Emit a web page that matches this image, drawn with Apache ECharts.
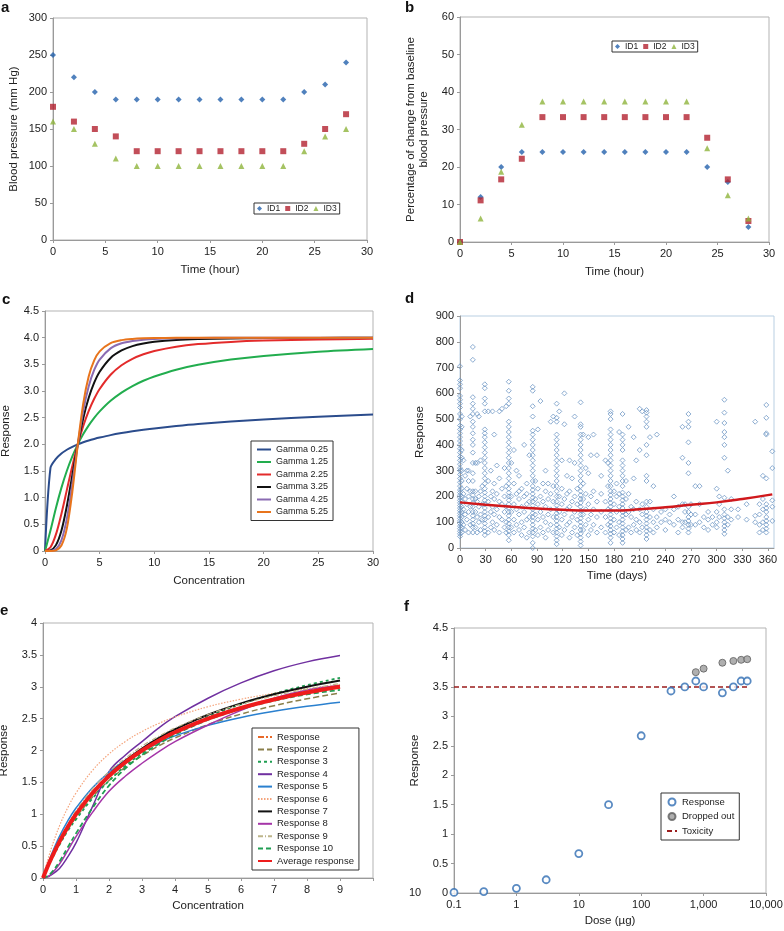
<!DOCTYPE html>
<html>
<head>
<meta charset="utf-8">
<script src="https://cdn.jsdelivr.net/npm/echarts@6/dist/echarts.min.js"></script>
<style>
  html, body { margin: 0; padding: 0; background: #fff; }
  #chart { width: 784px; height: 931px; }
</style>
</head>
<body>
<div id="chart"></div>
<script>
'use strict';
// ---- panel a / b : blood pressure by subject ----
const aTime = [0, 2, 4, 6, 8, 10, 12, 14, 16, 18, 20, 22, 24, 26, 28];
const aID1 = [250, 220, 200, 190, 190, 190, 190, 190, 190, 190, 190, 190, 200, 210, 240];
const aID2 = [180, 160, 150, 140, 120, 120, 120, 120, 120, 120, 120, 120, 130, 150, 170];
const aID3 = [160, 150, 130, 110, 100, 100, 100, 100, 100, 100, 100, 100, 120, 140, 150];
const bID1 = [0, 12, 20, 24, 24, 24, 24, 24, 24, 24, 24, 24, 20, 16, 4];
const bID2 = [0, 11.1, 16.7, 22.2, 33.3, 33.3, 33.3, 33.3, 33.3, 33.3, 33.3, 33.3, 27.8, 16.7, 5.6];
const bID3 = [0, 6.25, 18.75, 31.25, 37.5, 37.5, 37.5, 37.5, 37.5, 37.5, 37.5, 37.5, 25, 12.5, 6.25];

// ---- panel c : gamma curves ----
const cConc = [0, 0.5, 1, 1.5, 2, 2.5, 3, 3.5, 4, 4.5, 5, 6, 7, 8, 9, 10, 12, 14, 17, 20, 25, 30];
const cNames = ['Gamma 0.25', 'Gamma 1.25', 'Gamma 2.25', 'Gamma 3.25', 'Gamma 4.25', 'Gamma 5.25'];
const cG025 = [0, 1.559, 1.727, 1.827, 1.898, 1.954, 2.0, 2.038, 2.072, 2.101, 2.127, 2.173, 2.211, 2.244, 2.273, 2.299, 2.343, 2.381, 2.427, 2.466, 2.518, 2.56];
const cG125 = [0, 0.385, 0.808, 1.184, 1.504, 1.773, 2.0, 2.192, 2.356, 2.496, 2.618, 2.816, 2.97, 3.093, 3.192, 3.273, 3.399, 3.491, 3.589, 3.658, 3.736, 3.787];
const cG225 = [0, 0.07, 0.311, 0.695, 1.146, 1.595, 2.0, 2.343, 2.626, 2.854, 3.038, 3.305, 3.482, 3.603, 3.688, 3.75, 3.831, 3.879, 3.921, 3.945, 3.966, 3.978];
const cG325 = [0, 0.012, 0.11, 0.38, 0.845, 1.424, 2.0, 2.491, 2.872, 3.155, 3.361, 3.62, 3.76, 3.841, 3.89, 3.922, 3.956, 3.973, 3.986, 3.992, 3.996, 3.998];
const cG425 = [0, 0.002, 0.037, 0.2, 0.606, 1.262, 2.0, 2.633, 3.09, 3.394, 3.59, 3.8, 3.894, 3.939, 3.963, 3.976, 3.989, 3.995, 3.998, 3.999, 4.0, 4.0];
const cG525 = [0, 0.0003, 0.0125, 0.1025, 0.425, 1.11, 2.0, 2.768, 3.276, 3.575, 3.744, 3.898, 3.954, 3.977, 3.988, 3.993, 3.998, 3.999, 4.0, 4.0, 4.0, 4.0];
const cColors = ['#2b4c8c', '#22ad4e', '#e32b2b', '#111111', '#8a6bb2', '#e8741c'];

// ---- panel d : response over time (day, responses on that day) ----
const dColumns = [
  [0, [45, 55, 65, 75, 85, 95, 105, 115, 125, 135, 145, 155, 165, 175, 185, 195, 205, 215, 225, 240, 255, 270, 285, 300, 310, 325, 340, 355, 370, 385, 400, 415, 430, 445, 460, 475, 500, 520, 545, 560, 575, 590, 620, 635, 650, 705]],
  [2, [60, 80, 100, 120, 140, 160, 180, 200, 230, 260, 300, 350, 380, 470, 510]],
  [4, [90, 150, 210, 340]], [6, [70, 130, 190, 280]], [8, [110, 170, 230, 300]],
  [10, [60, 140, 200, 260, 300]], [12, [90, 160, 220, 510]],
  [15, [60, 80, 95, 110, 125, 140, 160, 175, 190, 205, 220, 260, 290, 330, 370, 400, 420, 445, 470, 490, 520, 540, 560, 585, 730, 780]],
  [18, [80, 140, 190, 220, 330]], [20, [60, 120, 180, 330, 520]], [22, [100, 160, 200, 510]],
  [24, [70, 130, 220, 340]], [26, [110, 170, 240]],
  [29, [50, 65, 80, 95, 110, 125, 140, 155, 170, 185, 200, 215, 230, 250, 270, 290, 310, 330, 350, 370, 390, 410, 430, 445, 460, 530, 560, 580, 620, 635]],
  [33, [60, 120, 180, 260, 530]], [36, [80, 140, 200, 300]], [38, [100, 160, 220, 530]],
  [40, [70, 130, 190, 250, 440]], [43, [90, 150, 210, 320]], [46, [60, 120, 180, 270, 530]],
  [49, [110, 170, 230, 540]], [52, [80, 140, 200, 310]], [54, [60, 100, 160, 240, 550]],
  [57, [30, 50, 65, 80, 95, 110, 125, 140, 155, 170, 185, 200, 215, 230, 250, 270, 290, 310, 330, 350, 370, 390, 410, 430, 450, 470, 490, 560, 580, 610, 645]],
  [60, [80, 140, 200, 330]], [63, [60, 110, 170, 250, 380]], [66, [90, 150, 210, 300]],
  [69, [70, 130, 190, 220, 280]], [72, [50, 100, 160, 230]], [75, [80, 140, 200, 400]],
  [78, [40, 110, 170, 210, 250]], [81, [60, 120, 180, 360]],
  [85, [0, 20, 45, 60, 75, 90, 105, 120, 135, 150, 165, 180, 195, 210, 225, 240, 260, 280, 300, 320, 340, 360, 380, 400, 420, 440, 455, 510, 550, 610, 625]],
  [88, [70, 130, 190, 260]], [91, [50, 110, 170, 230, 460]], [94, [80, 140, 200, 570]],
  [97, [60, 120, 180, 250]], [100, [40, 100, 160, 220, 300]], [103, [70, 130, 190, 250]],
  [106, [90, 150, 210, 490]], [109, [60, 120, 180, 240, 510]],
  [113, [15, 30, 45, 60, 75, 90, 105, 120, 135, 150, 165, 180, 200, 220, 240, 260, 280, 300, 320, 340, 360, 380, 400, 420, 440, 490, 505, 560]],
  [116, [80, 140, 200, 530]], [119, [50, 110, 170, 230, 340]], [122, [70, 130, 190, 480, 600]],
  [125, [90, 150, 210, 280]], [128, [40, 100, 160, 220, 340]], [131, [60, 120, 180, 270]],
  [134, [80, 140, 200, 330, 510]], [137, [50, 110, 170, 230]],
  [141, [10, 25, 40, 55, 70, 85, 100, 115, 130, 145, 160, 175, 190, 205, 220, 240, 260, 280, 300, 320, 340, 360, 380, 400, 420, 440, 470, 480, 565]],
  [144, [70, 130, 190, 250, 440]], [147, [90, 150, 210, 310]], [150, [50, 110, 170, 290, 430]],
  [153, [70, 130, 200, 360]], [156, [90, 150, 220, 440]], [160, [60, 120, 180, 360]],
  [165, [80, 140, 210, 280]], [170, [60, 120, 180, 340]], [173, [90, 150, 240, 330]],
  [176, [20, 40, 55, 70, 85, 100, 115, 130, 145, 160, 175, 190, 205, 220, 240, 260, 280, 300, 320, 340, 360, 380, 400, 420, 440, 460, 500, 520, 530]],
  [180, [60, 110, 170, 220]], [183, [80, 140, 200, 250]], [186, [50, 100, 160, 210, 450]],
  [190, [20, 35, 50, 65, 80, 95, 110, 125, 140, 155, 170, 185, 200, 215, 240, 260, 280, 300, 320, 340, 380, 400, 420, 440, 520]],
  [194, [70, 130, 190, 260]], [197, [80, 140, 210, 470]], [200, [60, 120, 160]],
  [203, [90, 150, 270, 430]], [206, [70, 110, 180, 340]], [210, [60, 100, 150, 380, 540]],
  [213, [80, 130, 170, 530]],
  [218, [35, 50, 65, 80, 95, 110, 125, 140, 160, 180, 260, 280, 360, 400, 470, 490, 510, 525, 535]],
  [222, [70, 120, 180, 430]], [226, [60, 100, 150, 240]], [230, [80, 120, 440]],
  [235, [100, 140]], [240, [70, 110, 150]], [245, [100, 130]], [250, [90, 150, 200]],
  [255, [60, 110, 160]], [260, [80, 100, 170, 350, 470]], [263, [100, 140, 170]],
  [267, [60, 75, 90, 105, 120, 140, 160, 290, 330, 410, 470, 490, 520]],
  [270, [90, 130, 170]], [275, [90, 130, 240]], [280, [100, 170, 240]], [285, [80, 120]],
  [290, [70, 110, 140]], [295, [90, 120]], [300, [80, 100, 140, 230, 490]], [303, [120, 170, 200]],
  [309, [55, 70, 85, 100, 115, 130, 150, 195, 350, 400, 430, 450, 485, 525, 575]],
  [313, [90, 120, 300]], [317, [110, 150, 190]], [325, [120, 150]], [335, [110, 170]],
  [345, [100, 125, 490]], [350, [60, 90, 130, 170]], [354, [70, 100, 150, 190, 280]],
  [358, [60, 75, 90, 105, 120, 140, 155, 170, 270, 440, 445, 505, 555]],
  [365, [105, 160, 185, 310, 375]]
];
const dTrendDays = [0, 30, 60, 90, 120, 150, 180, 210, 240, 270, 300, 330, 365];
const dTrendVals = [177, 168, 160, 153, 148, 145, 145, 150, 158, 168, 177, 190, 208];

// ---- panel e : individual responses vs concentration ----
const eConc = [0, 0.1, 0.25, 0.5, 0.75, 1, 1.5, 2, 2.5, 3, 3.5, 4, 5, 6, 7, 8, 9];
const eNames = ['Response', 'Response 2', 'Response 3', 'Response 4', 'Response 5', 'Response 6',
  'Response 7', 'Response 8', 'Response 9', 'Response 10', 'Average response'];
const eValues = [
  [0, 0.125, 0.3, 0.56, 0.78, 0.976, 1.3, 1.577, 1.8, 1.984, 2.14, 2.278, 2.5, 2.674, 2.814, 2.929, 3.025],
  [0, 0.12, 0.29, 0.55, 0.76, 0.951, 1.27, 1.529, 1.74, 1.918, 2.07, 2.197, 2.407, 2.571, 2.703, 2.811, 2.9],
  [0, 0.12, 0.28, 0.52, 0.74, 0.92, 1.25, 1.525, 1.76, 1.957, 2.13, 2.278, 2.528, 2.727, 2.89, 3.025, 3.14],
  [0, 0.01, 0.05, 0.15, 0.33, 0.55, 1.12, 1.67, 1.93, 2.14, 2.35, 2.53, 2.82, 3.06, 3.25, 3.39, 3.49],
  [0, 0.155, 0.362, 0.654, 0.895, 1.097, 1.417, 1.659, 1.848, 2.0, 2.125, 2.23, 2.394, 2.519, 2.615, 2.693, 2.757],
  [0, 0.2, 0.461, 0.818, 1.102, 1.333, 1.688, 1.946, 2.143, 2.298, 2.423, 2.526, 2.687, 2.805, 2.897, 2.969, 3.028],
  [0, 0.127, 0.304, 0.568, 0.798, 1.0, 1.34, 1.615, 1.842, 2.032, 2.194, 2.333, 2.561, 2.739, 2.882, 3.0, 3.098],
  [0, 0.01, 0.06, 0.22, 0.43, 0.65, 1.03, 1.36, 1.6, 1.8, 1.98, 2.14, 2.4, 2.63, 2.82, 2.95, 3.02],
  [0, 0.14, 0.33, 0.61, 0.84, 1.053, 1.4, 1.667, 1.88, 2.069, 2.22, 2.353, 2.564, 2.727, 2.857, 2.963, 3.05],
  [0, 0.02, 0.08, 0.26, 0.48, 0.7, 1.1, 1.45, 1.72, 1.93, 2.1, 2.25, 2.48, 2.65, 2.78, 2.88, 2.95],
  [0, 0.129, 0.308, 0.571, 0.8, 1.0, 1.333, 1.6, 1.818, 2.0, 2.154, 2.286, 2.5, 2.667, 2.8, 2.909, 3.0]
];
const eStyles = [
  { color: '#e8692a', width: 1.5, type: [6, 2, 2, 2] },
  { color: '#8a7f4a', width: 1.5, type: [6, 3] },
  { color: '#1f9e52', width: 1.8, type: [3, 3] },
  { color: '#7030a0', width: 1.5, type: 'solid' },
  { color: '#2a80cf', width: 1.5, type: 'solid' },
  { color: '#f4a47c', width: 1.2, type: [1.5, 1.5] },
  { color: '#111111', width: 2, type: 'solid' },
  { color: '#a535a8', width: 1.5, type: 'solid' },
  { color: '#bdb58a', width: 1.2, type: [5, 2, 1, 2] },
  { color: '#1f9e52', width: 1.8, type: [5, 3] },
  { color: '#ee1c1c', width: 4, type: 'solid' }
];

// ---- panel f : dose response ----
const fDose = [0.1, 0.3, 1, 3, 10, 30, 100, 300, 500, 750, 1000, 2000, 3000, 4000, 5000];
const fResp = [0.01, 0.025, 0.08, 0.225, 0.67, 1.5, 2.67, 3.43, 3.5, 3.6, 3.5, 3.4, 3.5, 3.6, 3.6];
const fDropDose = [750, 1000, 2000, 3000, 4000, 5000];
const fDropResp = [3.75, 3.81, 3.91, 3.94, 3.96, 3.97];
const fToxDose = [0.1, 5000];
const fToxResp = [3.5, 3.5];

const FONT = '"Liberation Sans", Arial, sans-serif';
const zip = (xs, ys) => xs.map((x, i) => [x, ys[i]]);

const grids = [
  { left: 53, top: 18, width: 314, height: 222 },
  { left: 460, top: 17, width: 309, height: 225 },
  { left: 45, top: 311, width: 328, height: 240 },
  { left: 460, top: 316, width: 314, height: 232, borderColor: '#b9cfe2' },
  { left: 43, top: 623, width: 330, height: 255 },
  { left: 454, top: 628, width: 312, height: 265 }
].map(g => Object.assign({ show: true, borderColor: '#b3b3b3', borderWidth: 1, containLabel: false, outerBoundsMode: 'none' }, g));

function axis(gridIndex, min, max, interval, name, nameGap, extra) {
  return Object.assign({
    type: 'value', gridIndex, min, max, interval, name, nameGap,
    nameLocation: 'middle',
    nameTextStyle: { fontFamily: FONT, fontSize: 11.5, color: '#222' },
    axisLine: { show: true, onZero: false, lineStyle: { color: '#9a9a9a', width: 1 } },
    axisTick: { show: true, length: 3, lineStyle: { color: '#9a9a9a' } },
    axisLabel: { fontFamily: FONT, fontSize: 11, color: '#222', margin: 6 },
    splitLine: { show: false }
  }, extra || {});
}

const yRot = { nameRotate: 90 };
const xAxes = [
  axis(0, 0, 30, 5, 'Time (hour)', 24),
  axis(1, 0, 30, 5, 'Time (hour)', 24),
  axis(2, 0, 30, 5, 'Concentration', 24),
  axis(3, 0, 367, 30, 'Time (days)', 22, { axisLabel: { fontFamily: FONT, fontSize: 11, color: '#222', margin: 6, showMaxLabel: false } }),
  axis(4, 0, 10, 1, 'Concentration', 22, { axisLabel: { fontFamily: FONT, fontSize: 11, color: '#222', margin: 6, formatter: v => (v === 10 ? '' : String(v)) } }),
  {
    type: 'log', logBase: 10, gridIndex: 5, min: 0.1, max: 10000, name: 'Dose (µg)', nameGap: 22,
    nameLocation: 'middle',
    nameTextStyle: { fontFamily: FONT, fontSize: 11.5, color: '#222' },
    axisLine: { show: true, onZero: false, lineStyle: { color: '#9a9a9a' } },
    axisTick: { show: true, length: 3, lineStyle: { color: '#9a9a9a' } },
    axisLabel: {
      fontFamily: FONT, fontSize: 11, color: '#222', margin: 6,
      formatter: v => Number(v).toLocaleString('en-US', { maximumFractionDigits: 1 })
    },
    minorTick: { show: false },
    splitLine: { show: false }
  }
];
const yAxes = [
  axis(0, 0, 300, 50, 'Blood pressure (mm Hg)', 33, yRot),
  axis(1, 0, 60, 10, 'Percentage of change from baseline\nblood pressure', 30, { nameRotate: 90, nameTextStyle: { fontFamily: FONT, fontSize: 11.5, color: '#222', lineHeight: 13 } }),
  axis(2, 0, 4.5, 0.5, 'Response', 33, { nameRotate: 90, axisLabel: { fontFamily: FONT, fontSize: 11, color: '#222', margin: 6, formatter: v => (v === 0 ? '0' : v.toFixed(1)) } }),
  axis(3, 0, 900, 100, 'Response', 34, yRot),
  axis(4, 0, 4, 0.5, 'Response', 33, yRot),
  axis(5, 0, 4.5, 0.5, 'Response', 33, yRot)
];

const idStyle = [
  { name: 'ID1', symbol: 'diamond', size: 6, color: '#2462ad' },
  { name: 'ID2', symbol: 'rect', size: 6, color: '#b3222f' },
  { name: 'ID3', symbol: 'triangle', size: 6, color: '#8fb43c' }
];

const series = [];
[aID1, aID2, aID3].forEach((vals, i) => {
  series.push({
    name: idStyle[i].name, type: 'scatter', xAxisIndex: 0, yAxisIndex: 0,
    symbol: idStyle[i].symbol, symbolSize: idStyle[i].size,
    itemStyle: { color: idStyle[i].color }, data: zip(aTime, vals)
  });
});
[bID1, bID2, bID3].forEach((vals, i) => {
  series.push({
    name: idStyle[i].name, type: 'scatter', xAxisIndex: 1, yAxisIndex: 1,
    symbol: idStyle[i].symbol, symbolSize: idStyle[i].size,
    itemStyle: { color: idStyle[i].color }, data: zip(aTime, vals)
  });
});
[cG025, cG125, cG225, cG325, cG425, cG525].forEach((vals, i) => {
  series.push({
    name: cNames[i], type: 'line', xAxisIndex: 2, yAxisIndex: 2, smooth: 0.3,
    symbol: 'none', lineStyle: { color: cColors[i], width: 2 }, itemStyle: { color: cColors[i] },
    data: zip(cConc, vals)
  });
});

const dPoints = [];
dColumns.forEach(([day, ys]) => ys.forEach(y => dPoints.push([day, y])));
series.push({
  name: 'd-data', type: 'scatter', xAxisIndex: 3, yAxisIndex: 3, symbol: 'diamond', symbolSize: 5,
  itemStyle: { color: 'rgba(255,255,255,0)', borderColor: '#7198c6', borderWidth: 1 },
  data: dPoints
});
series.push({
  name: 'd-trend', type: 'line', xAxisIndex: 3, yAxisIndex: 3, smooth: true, symbol: 'none',
  lineStyle: { color: '#d0181c', width: 2.5 }, data: zip(dTrendDays, dTrendVals)
});

eValues.forEach((vals, i) => {
  series.push({
    name: eNames[i], type: 'line', xAxisIndex: 4, yAxisIndex: 4, smooth: 0.4, symbol: 'none',
    lineStyle: eStyles[i], itemStyle: { color: eStyles[i].color }, data: zip(eConc, vals)
  });
});

const fRespStyle = { color: '#ffffff', borderColor: '#2f6db3', borderWidth: 1.8 };
series.push({
  name: 'Response ', type: 'scatter', xAxisIndex: 5, yAxisIndex: 5, symbol: 'circle', symbolSize: 7,
  itemStyle: fRespStyle, data: zip(fDose, fResp), z: 3
});
series.push({
  name: 'Dropped out', type: 'scatter', xAxisIndex: 5, yAxisIndex: 5, symbol: 'circle', symbolSize: 7,
  itemStyle: { color: '#9b9b9b', borderColor: '#5e5e5e', borderWidth: 1 }, data: zip(fDropDose, fDropResp)
});
series.push({
  name: 'Toxicity', type: 'line', xAxisIndex: 5, yAxisIndex: 5, symbol: 'none',
  lineStyle: { color: '#9b1c1c', width: 1.5, type: [5, 3] }, itemStyle: { color: '#9b1c1c' },
  data: zip(fToxDose, fToxResp), z: 1
});

const legendBase = {
  borderColor: '#333', borderWidth: 1, borderRadius: 0, backgroundColor: '#fff',
  textStyle: { fontFamily: FONT, fontSize: 9, color: '#222' },
  selectedMode: false
};
const noSymbol = { opacity: 0 };
const lineItems = names => names.map(n => ({ name: n, itemStyle: noSymbol }));
const legends = [
  Object.assign({}, legendBase, { data: ['ID1', 'ID2', 'ID3'], left: 254, top: 203, orient: 'horizontal', padding: [1, 3], itemGap: 5, itemWidth: 5, itemHeight: 5, textStyle: { fontFamily: FONT, fontSize: 8.5, color: '#222' } }),
  Object.assign({}, legendBase, { data: ['ID1', 'ID2', 'ID3'], left: 612, top: 41, orient: 'horizontal', padding: [1, 3], itemGap: 5, itemWidth: 5, itemHeight: 5, textStyle: { fontFamily: FONT, fontSize: 8.5, color: '#222' } }),
  Object.assign({}, legendBase, { data: lineItems(cNames), left: 251, top: 441, orient: 'vertical', padding: [4, 5], itemGap: 3.5, itemWidth: 14, itemHeight: 8, textStyle: { fontFamily: FONT, fontSize: 9, color: '#222' } }),
  Object.assign({}, legendBase, { data: lineItems(eNames), left: 252, top: 728, orient: 'vertical', padding: [4, 5], itemGap: 2.4, itemWidth: 14, itemHeight: 8, textStyle: { fontFamily: FONT, fontSize: 9.5, color: '#222' } }),
  Object.assign({}, legendBase, {
    data: ['Response ', 'Dropped out', { name: 'Toxicity', itemStyle: noSymbol }],
    formatter: n => n.trim(),
    left: 661, top: 793, orient: 'vertical', padding: [4, 5], itemGap: 4.5, itemWidth: 10, itemHeight: 7,
    textStyle: { fontFamily: FONT, fontSize: 9.5, color: '#222' }
  })
];

const letter = (t, x, y) => ({ type: 'text', x, y, style: { text: t, font: 'bold 15px ' + FONT, fill: '#111', textVerticalAlign: 'middle' } });

const option = {
  animation: false,
  backgroundColor: '#fff',
  grid: grids,
  xAxis: xAxes,
  yAxis: yAxes,
  legend: legends,
  series: series,
  graphic: [
    letter('a', 1, 8), letter('b', 405, 8), letter('c', 2, 300),
    letter('d', 405, 299), letter('e', 0, 611), letter('f', 404, 607),
    { type: 'text', x: 409, y: 893, style: { text: '10', font: '11px ' + FONT, fill: '#222', textVerticalAlign: 'middle' } }
  ]
};

const myChart = echarts.init(document.getElementById('chart'), null, { renderer: 'canvas' });
myChart.setOption(option);
</script>
</body>
</html>
